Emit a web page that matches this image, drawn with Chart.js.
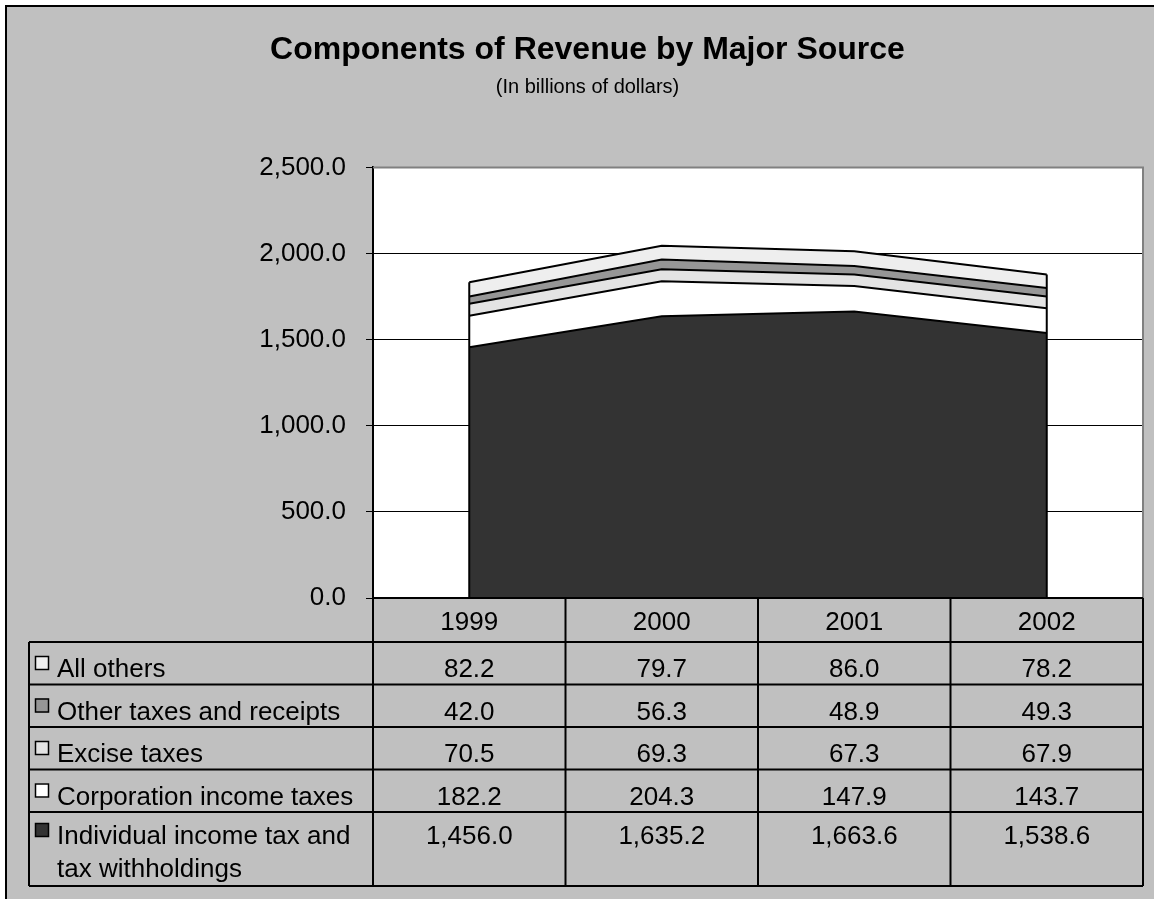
<!DOCTYPE html>
<html>
<head>
<meta charset="utf-8">
<title>Components of Revenue by Major Source</title>
<script src="https://cdn.jsdelivr.net/npm/chart.js@4.4.1/dist/chart.umd.min.js"></script>
<style>
  body { margin: 0; background: #ffffff; }
  #revenueChart { display: block; }
</style>
</head>
<body>
<canvas id="revenueChart" width="1154" height="899"></canvas>
<script>
// data, in billions of dollars
const years = ["1999", "2000", "2001", "2002"];
const individualTax = [1456.0, 1635.2, 1663.6, 1538.6];
const corporationTax = [182.2, 204.3, 147.9, 143.7];
const exciseTax = [70.5, 69.3, 67.3, 67.9];
const otherTaxes = [42.0, 56.3, 48.9, 49.3];
const allOthers = [82.2, 79.7, 86.0, 78.2];

const seriesNames = ["Individual income tax and tax withholdings", "Corporation income taxes", "Excise taxes", "Other taxes and receipts", "All others"];
// how the names are split in the data table
const tableNames = [["Individual income tax and", "tax withholdings"], ["Corporation income taxes"], ["Excise taxes"], ["Other taxes and receipts"], ["All others"]];
const seriesColors = ["#333333", "#ffffff", "#e3e3e3", "#969696", "#eeeeee"];

const FONT = "'Liberation Sans', Arial, Helvetica, sans-serif";

function fmt(v){
  return v.toLocaleString("en-US", {minimumFractionDigits: 1, maximumFractionDigits: 1});
}

// background, frame and plot area
const backgroundPlugin = {
  id: "background",
  beforeDraw(chart){
    const ctx = chart.ctx;
    const a = chart.chartArea;
    ctx.save();
    ctx.fillStyle = "#ffffff";
    ctx.fillRect(0, 0, chart.width, chart.height);
    ctx.fillStyle = "#c0c0c0";
    ctx.fillRect(6, 6, chart.width - 6, chart.height - 6);
    ctx.strokeStyle = "#000000";
    ctx.lineWidth = 2;
    ctx.beginPath();
    ctx.moveTo(6, chart.height);
    ctx.lineTo(6, 6);
    ctx.lineTo(chart.width, 6);
    ctx.stroke();
    ctx.fillStyle = "#ffffff";
    ctx.fillRect(a.left, a.top, a.right - a.left, a.bottom - a.top);
    ctx.restore();
  }
};

// vertical edges of the stacked areas
const edgePlugin = {
  id: "edges",
  afterDatasetsDraw(chart){
    const ctx = chart.ctx;
    const x = chart.scales.x, y = chart.scales.y;
    const last = years.length - 1;
    ctx.save();
    ctx.strokeStyle = "#000000";
    ctx.lineWidth = 2;
    [0, last].forEach(function(i){
      let total = 0;
      chart.data.datasets.forEach(function(ds){ total += ds.data[i]; });
      const px = x.getPixelForValue(i);
      ctx.beginPath();
      ctx.moveTo(px, y.getPixelForValue(0));
      ctx.lineTo(px, y.getPixelForValue(total));
      ctx.stroke();
    });
    ctx.restore();
  }
};

// plot border + data table under the chart
const tablePlugin = {
  id: "dataTable",
  afterDraw(chart){
    const ctx = chart.ctx;
    const a = chart.chartArea;
    const x = chart.scales.x;
    const half = (x.getPixelForValue(1) - x.getPixelForValue(0)) / 2;
    const tableLeft = 29;
    const headTop = a.bottom;
    const rowTops = [642, 684.5, 727, 769.5, 812];
    const tableBottom = 886;

    ctx.save();
    // gray plot area border top / right
    ctx.strokeStyle = "#808080";
    ctx.lineWidth = 2;
    ctx.beginPath();
    ctx.moveTo(a.left, a.top);
    ctx.lineTo(a.right, a.top);
    ctx.lineTo(a.right, a.bottom);
    ctx.stroke();

    ctx.strokeStyle = "#000000";
    ctx.lineWidth = 2;
    ctx.beginPath();
    // header row
    ctx.moveTo(a.left, headTop);
    ctx.lineTo(a.right, headTop);
    ctx.moveTo(a.left, headTop);
    ctx.lineTo(a.left, tableBottom);
    for(let i = 0; i < years.length; i++){
      const right = x.getPixelForValue(i) + half;
      ctx.moveTo(right, headTop);
      ctx.lineTo(right, tableBottom);
    }
    // row lines
    rowTops.forEach(function(t){
      ctx.moveTo(tableLeft, t);
      ctx.lineTo(a.right, t);
    });
    ctx.moveTo(tableLeft, tableBottom);
    ctx.lineTo(a.right, tableBottom);
    ctx.moveTo(tableLeft, rowTops[0]);
    ctx.lineTo(tableLeft, tableBottom);
    ctx.stroke();

    ctx.fillStyle = "#000000";
    ctx.font = "26px " + FONT;
    ctx.textBaseline = "alphabetic";
    ctx.textAlign = "center";
    years.forEach(function(yr, i){
      ctx.fillText(yr, x.getPixelForValue(i), headTop + 32);
    });

    // rows listed top-down: reverse of stack order
    const ds = chart.data.datasets;
    for(let r = 0; r < ds.length; r++){
      const k = ds.length - 1 - r;
      const top = rowTops[r];
      const base = top + (k === 0 ? 32 : 35);
      ctx.textAlign = "center";
      ctx.fillStyle = "#000000";
      ds[k].data.forEach(function(v, i){
        ctx.fillText(fmt(v), x.getPixelForValue(i), base);
      });
      // legend key
      ctx.fillStyle = seriesColors[k];
      ctx.fillRect(35, base - 21, 14, 14);
      ctx.strokeStyle = "#000000";
      ctx.lineWidth = 1.5;
      ctx.strokeRect(35.5, base - 20.5, 13, 13);
      ctx.fillStyle = "#000000";
      ctx.textAlign = "left";
      tableNames[k].forEach(function(line, j){
        ctx.fillText(line, 57, base + j * 33);
      });
    }
    ctx.restore();
  }
};

const datasets = [individualTax, corporationTax, exciseTax, otherTaxes, allOthers].map(function(values, i){
  return {
    label: seriesNames[i],
    data: values,
    backgroundColor: seriesColors[i],
    borderColor: "#000000",
    borderWidth: 2,
    pointRadius: 0,
    tension: 0,
    fill: i === 0 ? "origin" : "-1"
  };
});

new Chart(document.getElementById("revenueChart"), {
  type: "line",
  data: { labels: years, datasets: datasets },
  options: {
    responsive: false,
    animation: false,
    layout: { padding: { left: 32, right: 11, top: 0, bottom: 301 } },
    plugins: {
      legend: { display: false },
      tooltip: { enabled: false },
      title: {
        display: true,
        text: "Components of Revenue by Major Source",
        color: "#000000",
        font: { family: FONT, size: 32, weight: "bold" },
        padding: { top: 31, bottom: 0 }
      },
      subtitle: {
        display: true,
        text: "(In billions of dollars)",
        color: "#000000",
        font: { family: FONT, size: 20 },
        padding: { top: 6, bottom: 68 }
      }
    },
    scales: {
      x: {
        display: false,
        offset: true
      },
      y: {
        stacked: true,
        min: 0,
        max: 2500,
        afterFit: function(scale){ scale.width = 373 - 32; },
        ticks: {
          stepSize: 500,
          padding: 20,
          color: "#000000",
          font: { family: FONT, size: 26 },
          callback: function(v){ return fmt(v); }
        },
        grid: {
          color: "#000000",
          lineWidth: 1,
          tickLength: 7
        },
        border: { color: "#000000", width: 2 }
      }
    }
  },
  plugins: [backgroundPlugin, edgePlugin, tablePlugin]
});
</script>
</body>
</html>
